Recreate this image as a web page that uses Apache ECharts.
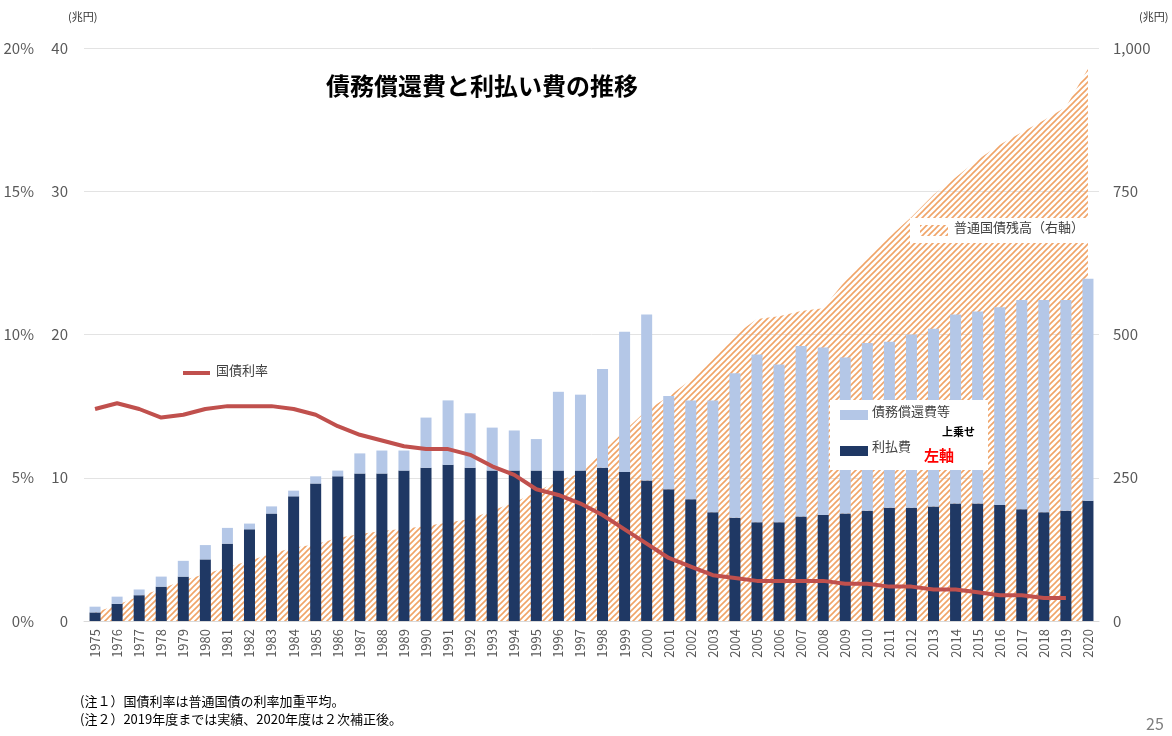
<!DOCTYPE html>
<html><head><meta charset="utf-8">
<script src="https://cdn.jsdelivr.net/npm/echarts@6/dist/echarts.min.js"></script>
<style>html,body{margin:0;background:#fff}#c{width:1172px;height:736px}</style>
</head><body><div id="c"></div>
<script>
const years=[];for(let y=1975;y<=2020;y++)years.push(String(y));
const interest=[0.6,1.2,1.8,2.4,3.1,4.3,5.4,6.4,7.5,8.7,9.6,10.1,10.3,10.3,10.5,10.7,10.9,10.7,10.5,10.5,10.5,10.5,10.5,10.7,10.4,9.8,9.2,8.5,7.6,7.2,6.9,6.9,7.3,7.4,7.5,7.7,7.9,7.9,8.0,8.2,8.2,8.1,7.8,7.6,7.7,8.4];
const totalDebtService=[1.0,1.7,2.2,3.1,4.2,5.3,6.5,6.8,8.0,9.1,10.1,10.5,11.7,11.9,11.9,14.2,15.4,14.5,13.5,13.3,12.7,16.0,15.8,17.6,20.2,21.4,15.7,15.4,15.4,17.3,18.6,17.9,19.2,19.1,18.4,19.4,19.5,20.0,20.4,21.4,21.6,21.9,22.4,22.4,22.4,23.9];
const rate=[7.4,7.6,7.4,7.1,7.2,7.4,7.5,7.5,7.5,7.4,7.2,6.8,6.5,6.3,6.1,6.0,6.0,5.8,5.4,5.1,4.6,4.4,4.1,3.7,3.2,2.7,2.2,1.9,1.6,1.5,1.4,1.4,1.4,1.4,1.3,1.3,1.2,1.2,1.1,1.1,1.0,0.9,0.9,0.8,0.8,null];
const debt=[15,28,43,56,71,82,94,105,118,128,134,145,152,157,161,166,172,178,193,207,225,245,258,295,332,368,392,421,457,499,527,532,541,546,594,636,670,705,744,774,805,831,853,874,897,964];
const redemption=totalDebtService.map((t,i)=>+(t-interest[i]).toFixed(1));

const cv=document.createElement('canvas');cv.width=6;cv.height=6;
const g=cv.getContext('2d');g.strokeStyle='#f0a468';g.lineWidth=1.6;
g.beginPath();g.moveTo(0,6);g.lineTo(6,0);g.moveTo(-3,3);g.lineTo(3,-3);g.moveTo(3,9);g.lineTo(9,3);g.stroke();
const hatch={image:cv,repeat:'repeat'};
const font='"Noto Sans CJK JP", sans-serif';
const chart=echarts.init(document.getElementById('c'));
const gr=[
  {type:'text',left:68,top:11,style:{text:'(兆円)',fill:'#333',font:'11px '+font}},
  {type:'text',left:1139,top:11,style:{text:'(兆円)',fill:'#333',font:'11px '+font}},
  {type:'text',left:326,top:74,style:{text:'債務償還費と利払い費の推移',font:'bold 24px '+font,fill:'#000'}},
  {type:'line',shape:{x1:183,y1:373,x2:210,y2:373},style:{stroke:'#c0504d',lineWidth:4}},
  {type:'text',left:216,top:364,style:{text:'国債利率',font:'13px '+font,fill:'#404040'}},
  {type:'rect',shape:{x:910,y:218,width:180,height:25},style:{fill:'#fff'}},
  {type:'rect',shape:{x:920,y:225,width:28,height:11},style:{fill:hatch}},
  {type:'text',left:954,top:221,style:{text:'普通国債残高（右軸）',font:'13px '+font,fill:'#404040'}},
  {type:'rect',shape:{x:830,y:400,width:158,height:70},style:{fill:'#fff'}},
  {type:'rect',shape:{x:840,y:410,width:28,height:10},style:{fill:'#b4c7e7'}},
  {type:'text',left:872,top:405,style:{text:'債務償還費等',font:'13px '+font,fill:'#404040'}},
  {type:'text',left:942,top:426,style:{text:'上乗せ',font:'bold 11px '+font,fill:'#000'}},
  {type:'rect',shape:{x:840,y:446,width:28,height:10},style:{fill:'#1f3864'}},
  {type:'text',left:872,top:440,style:{text:'利払費',font:'13px '+font,fill:'#404040'}},
  {type:'text',left:924,top:448,style:{text:'左軸',font:'bold 15px '+font,fill:'#ff0000'}},
  {type:'text',left:80,top:695,style:{text:'(注１）国債利率は普通国債の利率加重平均。',font:'13px '+font,fill:'#000'}},
  {type:'text',left:80,top:713,style:{text:'(注２）2019年度までは実績、2020年度は２次補正後。',font:'13px '+font,fill:'#000'}},
  {type:'text',left:1146,top:716,style:{text:'25',font:'16px '+font,fill:'#7f7f7f'}}
];
gr.forEach((e,i)=>{e.z=100+i;e.zlevel=1;});
chart.setOption({
 animation:false,
 textStyle:{fontFamily:font},
 grid:{left:84,right:73,top:48,bottom:115},
 xAxis:{type:'category',data:years,axisTick:{show:false},axisLine:{lineStyle:{color:'#d9d9d9'}},
  axisLabel:{rotate:90,color:'#595959',fontSize:13,fontFamily:font,margin:8}},
 yAxis:[
  {type:'value',min:0,max:40,interval:10,position:'left',axisLabel:{color:'#595959',fontSize:15,margin:16},splitLine:{lineStyle:{color:'#e3e3e3'}}},
  {type:'value',min:0,max:20,interval:5,position:'left',offset:42,axisLabel:{color:'#595959',fontSize:15,formatter:'{value}%'},splitLine:{show:false}},
  {type:'value',min:0,max:1000,interval:250,position:'right',axisLabel:{color:'#595959',fontSize:15,margin:14,formatter:v=>v.toLocaleString('en-US')},splitLine:{show:false}}
 ],
 series:[
  {type:'line',name:'普通国債残高（右軸）',yAxisIndex:2,data:debt,symbol:'none',lineStyle:{width:0},areaStyle:{color:hatch,opacity:1},z:1},
  {type:'bar',name:'利払費',stack:'s',data:interest,barWidth:11,itemStyle:{color:'#1f3864'},z:3},
  {type:'bar',name:'債務償還費等',stack:'s',data:redemption,barWidth:11,itemStyle:{color:'#b4c7e7'},z:3},
  {type:'line',name:'国債利率',yAxisIndex:1,data:rate,symbol:'none',lineStyle:{color:'#c0504d',width:4},z:5}
 ],
 graphic:gr
});
</script></body></html>
